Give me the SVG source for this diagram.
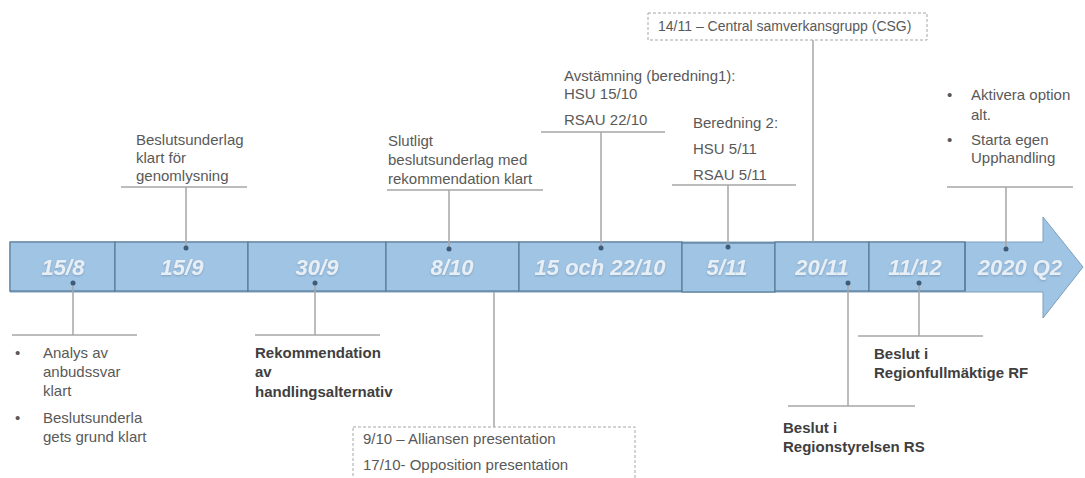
<svg xmlns="http://www.w3.org/2000/svg" width="1085" height="478" viewBox="0 0 1085 478">
<style>
.t{font-family:"Liberation Sans",Arial,sans-serif;font-size:15px;fill:#595959}
.b{font-family:"Liberation Sans",Arial,sans-serif;font-size:15px;font-weight:bold;fill:#404040}
.d{font-family:"Liberation Sans",Arial,sans-serif;font-size:22px;font-style:italic;font-weight:bold;fill:#eef3f9;fill-opacity:0.92;text-anchor:middle}
.seg{fill:#a0c4e4;stroke:#587a96;stroke-width:1.2}
.c{stroke:#a6a6a6;stroke-width:1.5;fill:none}
.dash{fill:none;stroke:#a6a6a6;stroke-width:1;stroke-dasharray:3 2}
.dot{fill:#3e5b78}
</style>
<defs>
<filter id="sh" x="-10%" y="-10%" width="120%" height="130%"><feDropShadow dx="0" dy="1" stdDeviation="0.8" flood-color="#6f8fab" flood-opacity="0.7"/></filter>
</defs>
<rect width="1085" height="478" fill="#ffffff"/>
<g id="arrow">
<polygon points="10,242 1043,242 1043,217 1083,267 1043,318 1043,292 10,292" fill="#a0c4e4" stroke="#7c9fbd" stroke-width="1"/>
</g>
<g id="n1"><rect class="seg" x="10" y="242" width="105" height="49"/><text class="d" x="63" y="275" filter="url(#sh)">15/8</text></g>
<g id="n2"><rect class="seg" x="115" y="242" width="133" height="49"/><text class="d" x="182" y="275" filter="url(#sh)">15/9</text></g>
<g id="n3"><rect class="seg" x="248" y="242" width="138" height="49"/><text class="d" x="317" y="275" filter="url(#sh)">30/9</text></g>
<g id="n4"><rect class="seg" x="386" y="242" width="133" height="49"/><text class="d" x="452" y="275" filter="url(#sh)">8/10</text></g>
<g id="n5"><rect class="seg" x="519" y="242" width="163" height="49"/><text class="d" x="600" y="275" filter="url(#sh)">15 och 22/10</text></g>
<g id="n6"><rect class="seg" x="682" y="243" width="93" height="49"/><text class="d" x="727" y="275" filter="url(#sh)">5/11</text></g>
<g id="n7"><rect class="seg" x="775" y="242" width="94" height="49"/><text class="d" x="822" y="275" filter="url(#sh)">20/11</text></g>
<g id="n8"><rect class="seg" x="869" y="242" width="96" height="49"/><text class="d" x="915" y="275" filter="url(#sh)">11/12</text></g>
<g id="n9"><text class="d" x="1020" y="275" filter="url(#sh)">2020 Q2</text><line x1="965" y1="242" x2="965" y2="291" stroke="#587a96" stroke-width="1.2"/></g>

<g id="connectors">
<path class="c" d="M73,283V335M12,335H137"/>
<path class="c" d="M186,248V187M121,187H247"/>
<path class="c" d="M315,283V335M255,335H380"/>
<path class="c" d="M449,249V190M387,190H543"/>
<path class="c" d="M494,292V427"/>
<path class="c" d="M601,248V132M541,132H665"/>
<path class="c" d="M728,247V185M672,185H796"/>
<path class="c" d="M813,242V40"/>
<path class="c" d="M848,283V406M788,406H915"/>
<path class="c" d="M919,283V336M858,336H983"/>
<path class="c" d="M1006,249V187M947,187H1073"/>
<circle class="dot" cx="73" cy="283" r="2.5"/>
<circle class="dot" cx="186" cy="248" r="2.5"/>
<circle class="dot" cx="315" cy="283" r="2.5"/>
<circle class="dot" cx="449" cy="249" r="2.5"/>
<circle class="dot" cx="601" cy="248" r="2.5"/>
<circle class="dot" cx="728" cy="247" r="2.5"/>
<circle class="dot" cx="848" cy="283" r="2.5"/>
<circle class="dot" cx="919" cy="283" r="2.5"/>
<circle class="dot" cx="1006" cy="249" r="2.5"/>
</g>

<g id="lbl-158">
<text class="t" x="15" y="358">•</text>
<text class="t" x="43" y="358">Analys av</text>
<text class="t" x="43" y="377">anbudssvar</text>
<text class="t" x="43" y="396">klart</text>
<text class="t" x="15" y="423">•</text>
<text class="t" x="43" y="423">Beslutsunderla</text>
<text class="t" x="43" y="442">gets grund klart</text>
</g>
<g id="lbl-159">
<text class="t" x="136" y="145">Beslutsunderlag</text>
<text class="t" x="136" y="163">klart för</text>
<text class="t" x="136" y="181">genomlysning</text>
</g>
<g id="lbl-309">
<text class="b" x="255" y="358">Rekommendation</text>
<text class="b" x="255" y="377">av</text>
<text class="b" x="255" y="397">handlingsalternativ</text>
</g>
<g id="lbl-810">
<text class="t" x="388" y="146">Slutligt</text>
<text class="t" x="388" y="165">beslutsunderlag med</text>
<text class="t" x="388" y="184">rekommendation klart</text>
</g>
<g id="lbl-presentation">
<rect class="dash" x="353" y="427" width="282" height="60"/>
<text class="t" x="363" y="444">9/10 – Alliansen presentation</text>
<text class="t" x="363" y="470">17/10- Opposition presentation</text>
</g>
<g id="lbl-1522">
<text class="t" x="564" y="81">Avstämning (beredning1):</text>
<text class="t" x="564" y="99">HSU 15/10</text>
<text class="t" x="564" y="125">RSAU 22/10</text>
</g>
<g id="lbl-511">
<text class="t" x="693" y="128">Beredning 2:</text>
<text class="t" x="693" y="154">HSU 5/11</text>
<text class="t" x="693" y="180">RSAU 5/11</text>
</g>
<g id="lbl-csg">
<rect class="dash" x="648" y="13" width="279" height="27"/>
<text class="t" x="658" y="31" style="font-size:14px">14/11 – Central samverkansgrupp (CSG)</text>
</g>
<g id="lbl-2011">
<text class="b" x="783" y="433">Beslut i</text>
<text class="b" x="783" y="452">Regionstyrelsen RS</text>
</g>
<g id="lbl-1112">
<text class="b" x="874" y="359">Beslut i</text>
<text class="b" x="874" y="378">Regionfullmäktige RF</text>
</g>
<g id="lbl-2020">
<text class="t" x="947" y="100">•</text>
<text class="t" x="971" y="100">Aktivera option</text>
<text class="t" x="971" y="120">alt.</text>
<text class="t" x="947" y="145">•</text>
<text class="t" x="971" y="145">Starta egen</text>
<text class="t" x="971" y="163">Upphandling</text>
</g>
</svg>
